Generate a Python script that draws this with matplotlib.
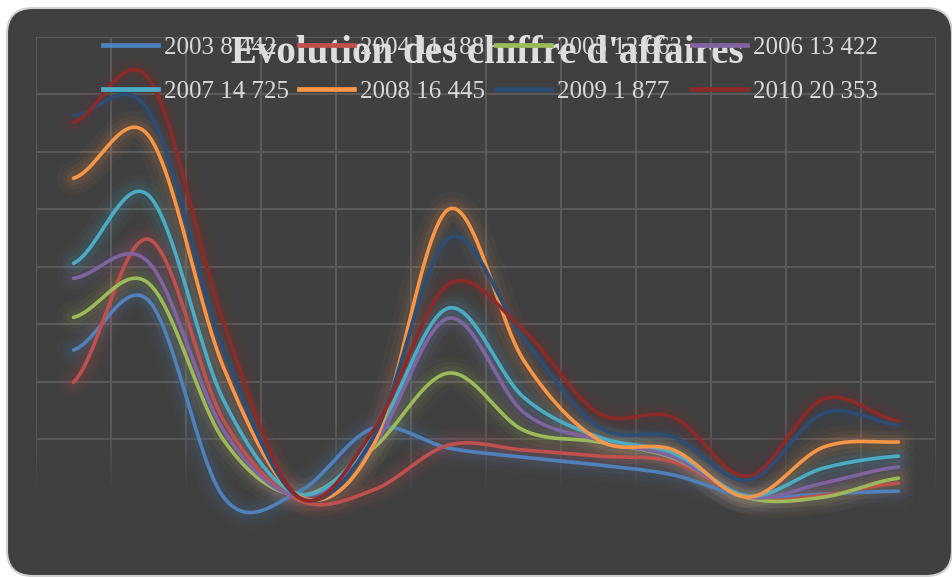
import numpy as np
import matplotlib
matplotlib.use("Agg")
import matplotlib.pyplot as plt
from matplotlib.patches import FancyBboxPatch
from matplotlib.transforms import IdentityTransform
from matplotlib.lines import Line2D
from matplotlib.font_manager import FontProperties

# ---------------- data ----------------
months = ["Jan", "Fév", "Mar", "Avr", "Mai", "Juin", "Juil", "Août", "Sep", "Oct", "Nov", "Déc"]
series_labels = ["2003 8 442", "2004 11 188", "2005 12 663", "2006 13 422",
                 "2007 14 725", "2008 16 445", "2009 1 877", "2010 20 353"]
v2003 = [710, 883, 198, 216, 438, 369, 337, 310, 275, 198, 209, 219]
v2004 = [598, 1096, 466, 188, 223, 379, 362, 341, 320, 195, 205, 247]
v2005 = [824, 943, 397, 205, 369, 630, 431, 390, 334, 195, 198, 264]
v2006 = [960, 1016, 431, 202, 379, 821, 494, 397, 337, 198, 247, 303]
v2007 = [1012, 1249, 536, 209, 407, 856, 546, 407, 351, 202, 299, 341]
v2008 = [1308, 1457, 650, 202, 379, 1200, 675, 397, 362, 198, 372, 390]
v2009 = [1527, 1544, 710, 198, 407, 1099, 751, 442, 407, 257, 490, 449]
v2010 = [1503, 1656, 807, 198, 431, 939, 779, 490, 476, 271, 539, 463]
series = [v2003, v2004, v2005, v2006, v2007, v2008, v2009, v2010]
colors = ["#4F81BD", "#C0504D", "#9BBB59", "#8064A2",
          "#4BACC6", "#F79646", "#2C4D75", "#8C2A28"]
title = "Evolution des chiffre d'affaires"

W, H = 953, 577
BG = "#404040"


def smooth(vals, n=24):
    """Catmull-Rom (Excel-like) smoothing through the data points."""
    y = np.asarray(vals, float)
    N = len(y)
    m = np.empty(N)
    m[1:-1] = (y[2:] - y[:-2]) / 2.0
    m[0] = (y[1] - y[0]) / 2.0
    m[-1] = (y[-1] - y[-2]) / 2.0
    t = np.linspace(0, 1, n, endpoint=False)
    h00 = 2 * t**3 - 3 * t**2 + 1
    h10 = t**3 - 2 * t**2 + t
    h01 = -2 * t**3 + 3 * t**2
    h11 = t**3 - t**2
    xs, ys = [], []
    for i in range(N - 1):
        xs.append(i + t)
        ys.append(h00 * y[i] + h10 * m[i] + h01 * y[i + 1] + h11 * m[i + 1])
    xs.append([N - 1])
    ys.append([y[-1]])
    return np.concatenate(xs), np.concatenate(ys)


fig = plt.figure(figsize=(W / 100, H / 100), dpi=100)
fig.patch.set_facecolor("white")

# rounded dark chart area
bg = FancyBboxPatch((7, 1), 945, 568, boxstyle="round,pad=0,rounding_size=26",
                    transform=IdentityTransform(), fc=BG, ec="#d0d0d0", lw=1.5,
                    zorder=-5)
fig.add_artist(bg)

ax = fig.add_axes([36 / W, 23 / H, 900 / W, 517 / H])
ax.set_facecolor("none")
for s in ax.spines.values():
    s.set_visible(False)

ax.set_xticks(np.arange(-0.5, 12, 1))
ax.set_yticks(np.arange(0, 1801, 200))
ax.tick_params(length=0, labelbottom=False, labelleft=False)
ax.grid(True, color="#5b5b5b", lw=1.4, zorder=0)
ax.set_axisbelow(True)

# fade of gridlines toward the bottom
rgb = matplotlib.colors.to_rgb(BG)
grad = np.zeros((256, 1, 4))
yy = (np.arange(256) + 0.5) / 256
grad[:, 0, :3] = rgb
grad[:, 0, 3] = np.clip((0.25 - yy) / 0.13, 0, 1)
ax.imshow(grad, extent=[-0.5, 11.5, 0, 1800], aspect="auto", origin="lower",
          zorder=1, interpolation="bilinear")

# glows
for vals, c in zip(series, colors):
    xs, ys = smooth(vals)
    for w, a in [(24, 0.04), (16, 0.06), (10, 0.08)]:
        ax.plot(xs, ys, color=c, lw=w, alpha=a, solid_capstyle="round",
                solid_joinstyle="round", zorder=2)

# lines
for k, (vals, c) in enumerate(zip(series, colors)):
    xs, ys = smooth(vals)
    ax.plot(xs, ys, color=c, lw=2.6, solid_capstyle="round",
            solid_joinstyle="round", zorder=3 + k)

ax.set_xlim(-0.5, 11.5)
ax.set_ylim(0, 1800)

# title (under the legend)
ax.text(487 / W, 1 - 63 / H, title, transform=fig.transFigure, ha="center",
        va="baseline", fontsize=28, fontweight="bold", family="Liberation Serif",
        color="#dedede", zorder=20, clip_on=False)

# legend, row-major order
order = [0, 4, 1, 5, 2, 6, 3, 7]
handles = [Line2D([0], [0], color=colors[i], lw=3.4) for i in order]
labels = [series_labels[i] for i in order]
leg = ax.legend(handles, labels, ncol=4, loc="upper left",
                bbox_to_anchor=(103 / W, 1 - 36 / H), bbox_transform=fig.transFigure,
                frameon=False, prop=FontProperties(family="Liberation Serif", size=18),
                labelcolor="#d9d9d9", handlelength=2.2, handletextpad=0.25,
                columnspacing=0.4, labelspacing=0.87, borderpad=0, borderaxespad=0)
leg.set_zorder(30)

fig.savefig("out.png", dpi=100, facecolor="white")
